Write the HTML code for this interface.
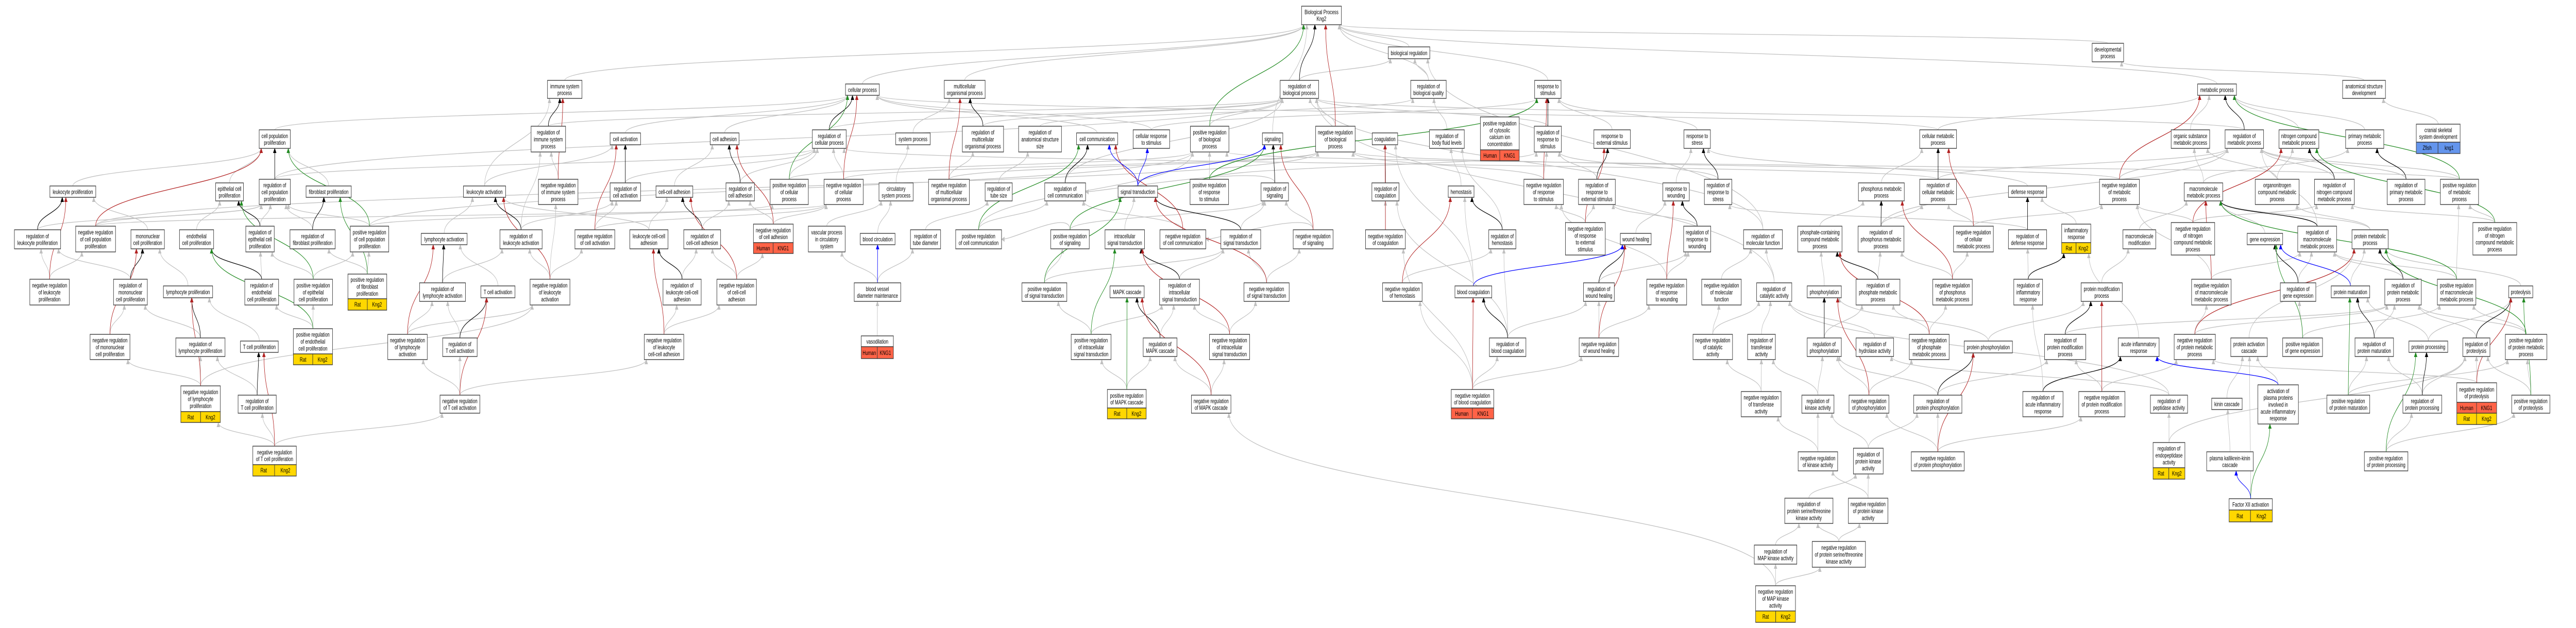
<!DOCTYPE html>
<html><head><meta charset="utf-8">
<style>
html,body{margin:0;padding:0;background:#fff;overflow:hidden;}
svg{display:block;overflow:hidden;width:100vw;height:100vh;}
rect{fill:#fff;stroke:#3a3a3a;stroke-width:1.4;}
rect.g{fill:#FFD700;}
rect.r{fill:#FF6347;}
rect.b{fill:#6495ED;}
text{font-family:"Liberation Sans",Arial,sans-serif;font-size:12.4px;text-anchor:middle;fill:#000;}
path.e{fill:none;stroke-width:1.3;}
</style></head>
<body>
<svg id="s" xmlns="http://www.w3.org/2000/svg" viewBox="0 0 7693 1219" preserveAspectRatio="none">
<defs>
<marker id="mgray" markerWidth="10" markerHeight="10" refX="9" refY="5" orient="auto" markerUnits="userSpaceOnUse"><path d="M0,0 L10,5 L0,10 z" fill="#c0c0c0"/></marker>
<marker id="mblack" markerWidth="10" markerHeight="10" refX="9" refY="5" orient="auto" markerUnits="userSpaceOnUse"><path d="M0,0 L10,5 L0,10 z" fill="#000"/></marker>
<marker id="mred" markerWidth="10" markerHeight="10" refX="9" refY="5" orient="auto" markerUnits="userSpaceOnUse"><path d="M0,0 L10,5 L0,10 z" fill="#b22222"/></marker>
<marker id="mgreen" markerWidth="10" markerHeight="10" refX="9" refY="5" orient="auto" markerUnits="userSpaceOnUse"><path d="M0,0 L10,5 L0,10 z" fill="#228b22"/></marker>
<marker id="mblue" markerWidth="10" markerHeight="10" refX="9" refY="5" orient="auto" markerUnits="userSpaceOnUse"><path d="M0,0 L10,5 L0,10 z" fill="#0000ff"/></marker>
</defs>
<g id="edges"></g>
<g id="nodes">
<g id="cpp"><rect x="774" y="252" width="93" height="36"/><text x="820.5" y="267.9"><tspan x="820.5">cell population</tspan><tspan x="820.5" dy="13.3">proliferation</tspan></text></g>
<g id="lkp"><rect x="149" y="361" width="137" height="22"/><text x="217.5" y="376.5">leukocyte proliferation</text></g>
<g id="epi"><rect x="644" y="355" width="83" height="35"/><text x="685.5" y="370.4"><tspan x="685.5">epithelial cell</tspan><tspan x="685.5" dy="13.3">proliferation</tspan></text></g>
<g id="rcpp"><rect x="774" y="348" width="93" height="49"/><text x="820.5" y="363.7"><tspan x="820.5">regulation of</tspan><tspan x="820.5" dy="13.3">cell population</tspan><tspan x="820.5" dy="13.3">proliferation</tspan></text></g>
<g id="fib"><rect x="914" y="361" width="135" height="22"/><text x="981.5" y="376.5">fibroblast proliferation</text></g>
<g id="rlkp"><rect x="43" y="446" width="138" height="37"/><text x="112" y="462.4"><tspan x="112">regulation of</tspan><tspan x="112" dy="13.3">leukocyte proliferation</tspan></text></g>
<g id="ncpp"><rect x="226" y="439" width="119" height="50"/><text x="285.5" y="455.2"><tspan x="285.5">negative regulation</tspan><tspan x="285.5" dy="13.3">of cell population</tspan><tspan x="285.5" dy="13.3">proliferation</tspan></text></g>
<g id="mono"><rect x="391" y="446" width="100" height="37"/><text x="441" y="462.4"><tspan x="441">mononuclear</tspan><tspan x="441" dy="13.3">cell proliferation</tspan></text></g>
<g id="endo"><rect x="536" y="446" width="102" height="37"/><text x="587" y="462.4"><tspan x="587">endothelial</tspan><tspan x="587" dy="13.3">cell proliferation</tspan></text></g>
<g id="repi"><rect x="734" y="439" width="85" height="50"/><text x="776.5" y="455.2"><tspan x="776.5">regulation of</tspan><tspan x="776.5" dy="13.3">epithelial cell</tspan><tspan x="776.5" dy="13.3">proliferation</tspan></text></g>
<g id="rfib"><rect x="866" y="446" width="135" height="37"/><text x="933.5" y="462.4"><tspan x="933.5">regulation of</tspan><tspan x="933.5" dy="13.3">fibroblast proliferation</tspan></text></g>
<g id="pcpp"><rect x="1046" y="439" width="115" height="50"/><text x="1103.5" y="455.2"><tspan x="1103.5">positive regulation</tspan><tspan x="1103.5" dy="13.3">of cell population</tspan><tspan x="1103.5" dy="13.3">proliferation</tspan></text></g>
<g id="lya"><rect x="1258" y="453" width="137" height="22"/><text x="1326.5" y="468.5">lymphocyte activation</text></g>
<g id="nlkp"><rect x="89" y="542" width="118" height="50"/><text x="148" y="558.2"><tspan x="148">negative regulation</tspan><tspan x="148" dy="13.3">of leukocyte</tspan><tspan x="148" dy="13.3">proliferation</tspan></text></g>
<g id="rmono"><rect x="339" y="542" width="101" height="50"/><text x="389.5" y="558.2"><tspan x="389.5">regulation of</tspan><tspan x="389.5" dy="13.3">mononuclear</tspan><tspan x="389.5" dy="13.3">cell proliferation</tspan></text></g>
<g id="lyp"><rect x="488" y="555" width="147" height="23"/><text x="561.5" y="571">lymphocyte proliferation</text></g>
<g id="rendo"><rect x="731" y="542" width="101" height="50"/><text x="781.5" y="558.2"><tspan x="781.5">regulation of</tspan><tspan x="781.5" dy="13.3">endothelial</tspan><tspan x="781.5" dy="13.3">cell proliferation</tspan></text></g>
<g id="pepi"><rect x="878" y="542" width="115" height="50"/><text x="935.5" y="558.2"><tspan x="935.5">positive regulation</tspan><tspan x="935.5" dy="13.3">of epithelial</tspan><tspan x="935.5" dy="13.3">cell proliferation</tspan></text></g>
<g id="pfib"><rect x="1039" y="532" width="116" height="48"/><rect class="g" x="1039" y="580" width="58" height="22"/><rect class="g" x="1097" y="580" width="58" height="22"/><text x="1097" y="547.2"><tspan x="1097">positive regulation</tspan><tspan x="1097" dy="13.3">of fibroblast</tspan><tspan x="1097" dy="13.3">proliferation</tspan></text><text x="1068" y="595">Rat</text><text x="1126" y="595">Kng2</text></g>
<g id="rlya"><rect x="1253" y="549" width="137" height="36"/><text x="1321.5" y="564.9"><tspan x="1321.5">regulation of</tspan><tspan x="1321.5" dy="13.3">lymphocyte activation</tspan></text></g>
<g id="nmono"><rect x="269" y="649" width="119" height="49"/><text x="328.5" y="664.7"><tspan x="328.5">negative regulation</tspan><tspan x="328.5" dy="13.3">of mononuclear</tspan><tspan x="328.5" dy="13.3">cell proliferation</tspan></text></g>
<g id="rlyp"><rect x="525" y="656" width="147" height="36"/><text x="598.5" y="671.9"><tspan x="598.5">regulation of</tspan><tspan x="598.5" dy="13.3">lymphocyte proliferation</tspan></text></g>
<g id="tp"><rect x="718" y="662" width="113" height="22"/><text x="774.5" y="677.5">T cell proliferation</text></g>
<g id="pendo"><rect x="876" y="638" width="117" height="49"/><rect class="g" x="876" y="687" width="58" height="21"/><rect class="g" x="934" y="687" width="59" height="21"/><text x="934.5" y="653.7"><tspan x="934.5">positive regulation</tspan><tspan x="934.5" dy="13.3">of endothelial</tspan><tspan x="934.5" dy="13.3">cell proliferation</tspan></text><text x="905" y="702">Rat</text><text x="963.5" y="702">Kng2</text></g>
<g id="nlya"><rect x="1158" y="649" width="118" height="49"/><text x="1217" y="664.7"><tspan x="1217">negative regulation</tspan><tspan x="1217" dy="13.3">of lymphocyte</tspan><tspan x="1217" dy="13.3">activation</tspan></text></g>
<g id="nlyp"><rect x="540" y="749" width="118" height="50"/><rect class="g" x="540" y="799" width="59" height="21"/><rect class="g" x="599" y="799" width="59" height="21"/><text x="599" y="765.2"><tspan x="599">negative regulation</tspan><tspan x="599" dy="13.3">of lymphocyte</tspan><tspan x="599" dy="13.3">proliferation</tspan></text><text x="569.5" y="814">Rat</text><text x="628.5" y="814">Kng2</text></g>
<g id="rtp"><rect x="711" y="767" width="114" height="35"/><text x="768" y="782.4"><tspan x="768">regulation of</tspan><tspan x="768" dy="13.3">T cell proliferation</tspan></text></g>
<g id="ntp"><rect x="755" y="866" width="130" height="36"/><rect class="g" x="755" y="902" width="65" height="22"/><rect class="g" x="820" y="902" width="65" height="22"/><text x="820" y="881.9"><tspan x="820">negative regulation</tspan><tspan x="820" dy="13.3">of T cell proliferation</tspan></text><text x="787.5" y="917">Rat</text><text x="852.5" y="917">Kng2</text></g>

<g id="imm"><rect x="1635" y="156" width="103" height="35"/><text x="1686.5" y="171.4"><tspan x="1686.5">immune system</tspan><tspan x="1686.5" dy="13.3">process</tspan></text></g>
<g id="cp"><rect x="2525" y="163" width="101" height="22"/><text x="2575.5" y="178.5">cellular process</text></g>
<g id="rimm"><rect x="1586" y="245" width="103" height="50"/><text x="1637.5" y="261.2"><tspan x="1637.5">regulation of</tspan><tspan x="1637.5" dy="13.3">immune system</tspan><tspan x="1637.5" dy="13.3">process</tspan></text></g>
<g id="ca"><rect x="1822" y="258" width="91" height="23"/><text x="1867.5" y="274">cell activation</text></g>
<g id="cad"><rect x="2121" y="258" width="86" height="23"/><text x="2164" y="274">cell adhesion</text></g>
<g id="rcp"><rect x="2426" y="252" width="101" height="36"/><text x="2476.5" y="267.9"><tspan x="2476.5">regulation of</tspan><tspan x="2476.5" dy="13.3">cellular process</tspan></text></g>
<g id="lka"><rect x="1384" y="361" width="126" height="22"/><text x="1447" y="376.5">leukocyte activation</text></g>
<g id="nimm"><rect x="1608" y="348" width="118" height="49"/><text x="1667" y="363.7"><tspan x="1667">negative regulation</tspan><tspan x="1667" dy="13.3">of immune system</tspan><tspan x="1667" dy="13.3">process</tspan></text></g>
<g id="rca"><rect x="1822" y="355" width="91" height="35"/><text x="1867.5" y="370.4"><tspan x="1867.5">regulation of</tspan><tspan x="1867.5" dy="13.3">cell activation</tspan></text></g>
<g id="ccad"><rect x="1959" y="361" width="110" height="22"/><text x="2014" y="376.5">cell-cell adhesion</text></g>
<g id="rcad"><rect x="2168" y="355" width="85" height="35"/><text x="2210.5" y="370.4"><tspan x="2210.5">regulation of</tspan><tspan x="2210.5" dy="13.3">cell adhesion</tspan></text></g>
<g id="pcp"><rect x="2300" y="348" width="114" height="49"/><text x="2357" y="363.7"><tspan x="2357">positive regulation</tspan><tspan x="2357" dy="13.3">of cellular</tspan><tspan x="2357" dy="13.3">process</tspan></text></g>
<g id="ncp"><rect x="2461" y="348" width="117" height="49"/><text x="2519.5" y="363.7"><tspan x="2519.5">negative regulation</tspan><tspan x="2519.5" dy="13.3">of cellular</tspan><tspan x="2519.5" dy="13.3">process</tspan></text></g>
<g id="rlka"><rect x="1493" y="446" width="126" height="37"/><text x="1556" y="462.4"><tspan x="1556">regulation of</tspan><tspan x="1556" dy="13.3">leukocyte activation</tspan></text></g>
<g id="nca"><rect x="1717" y="446" width="119" height="37"/><text x="1776.5" y="462.4"><tspan x="1776.5">negative regulation</tspan><tspan x="1776.5" dy="13.3">of cell activation</tspan></text></g>
<g id="lkcc"><rect x="1881" y="446" width="114" height="37"/><text x="1938" y="462.4"><tspan x="1938">leukocyte cell-cell</tspan><tspan x="1938" dy="13.3">adhesion</tspan></text></g>
<g id="rccad"><rect x="2042" y="446" width="110" height="37"/><text x="2097" y="462.4"><tspan x="2097">regulation of</tspan><tspan x="2097" dy="13.3">cell-cell adhesion</tspan></text></g>
<g id="ncad"><rect x="2250" y="435" width="119" height="36"/><rect class="r" x="2250" y="471" width="59" height="21"/><rect class="r" x="2309" y="471" width="60" height="21"/><text x="2309.5" y="450.9"><tspan x="2309.5">negative regulation</tspan><tspan x="2309.5" dy="13.3">of cell adhesion</tspan></text><text x="2279.5" y="486">Human</text><text x="2339" y="486">KNG1</text></g>
<g id="vasc"><rect x="2414" y="439" width="110" height="50"/><text x="2469" y="455.2"><tspan x="2469">vascular process</tspan><tspan x="2469" dy="13.3">in circulatory</tspan><tspan x="2469" dy="13.3">system</tspan></text></g>
<g id="tca"><rect x="1436" y="555" width="102" height="23"/><text x="1487" y="571">T cell activation</text></g>
<g id="nlka"><rect x="1583" y="542" width="119" height="50"/><text x="1642.5" y="558.2"><tspan x="1642.5">negative regulation</tspan><tspan x="1642.5" dy="13.3">of leukocyte</tspan><tspan x="1642.5" dy="13.3">activation</tspan></text></g>
<g id="rlkcc"><rect x="1980" y="542" width="114" height="50"/><text x="2037" y="558.2"><tspan x="2037">regulation of</tspan><tspan x="2037" dy="13.3">leukocyte cell-cell</tspan><tspan x="2037" dy="13.3">adhesion</tspan></text></g>
<g id="nccad"><rect x="2141" y="542" width="118" height="50"/><text x="2200" y="558.2"><tspan x="2200">negative regulation</tspan><tspan x="2200" dy="13.3">of cell-cell</tspan><tspan x="2200" dy="13.3">adhesion</tspan></text></g>
<g id="bvdm"><rect x="2551" y="549" width="139" height="36"/><text x="2620.5" y="564.9"><tspan x="2620.5">blood vessel</tspan><tspan x="2620.5" dy="13.3">diameter maintenance</tspan></text></g>
<g id="rtca"><rect x="1322" y="656" width="103" height="36"/><text x="1373.5" y="671.9"><tspan x="1373.5">regulation of</tspan><tspan x="1373.5" dy="13.3">T cell activation</tspan></text></g>
<g id="nlkcc"><rect x="1924" y="649" width="118" height="49"/><text x="1983" y="664.7"><tspan x="1983">negative regulation</tspan><tspan x="1983" dy="13.3">of leukocyte</tspan><tspan x="1983" dy="13.3">cell-cell adhesion</tspan></text></g>
<g id="ntca"><rect x="1314" y="767" width="119" height="35"/><text x="1373.5" y="782.4"><tspan x="1373.5">negative regulation</tspan><tspan x="1373.5" dy="13.3">of T cell activation</tspan></text></g>
<g id="vaso"><rect x="2572" y="652" width="96" height="21"/><rect class="r" x="2572" y="673" width="48" height="23"/><rect class="r" x="2620" y="673" width="48" height="23"/><text x="2620" y="667">vasodilation</text><text x="2596" y="689">Human</text><text x="2644" y="689">KNG1</text></g>

<g id="multi"><rect x="2820" y="156" width="122" height="35"/><text x="2881" y="171.4"><tspan x="2881">multicellular</tspan><tspan x="2881" dy="13.3">organismal process</tspan></text></g>
<g id="rbp"><rect x="3823" y="156" width="115" height="35"/><text x="3880.5" y="171.4"><tspan x="3880.5">regulation of</tspan><tspan x="3880.5" dy="13.3">biological process</tspan></text></g>
<g id="sys"><rect x="2675" y="258" width="103" height="23"/><text x="2726.5" y="274">system process</text></g>
<g id="rmulti"><rect x="2874" y="245" width="123" height="50"/><text x="2935.5" y="261.2"><tspan x="2935.5">regulation of</tspan><tspan x="2935.5" dy="13.3">multicellular</tspan><tspan x="2935.5" dy="13.3">organismal process</tspan></text></g>
<g id="ranat"><rect x="3042" y="245" width="128" height="50"/><text x="3106" y="261.2"><tspan x="3106">regulation of</tspan><tspan x="3106" dy="13.3">anatomical structure</tspan><tspan x="3106" dy="13.3">size</tspan></text></g>
<g id="cc"><rect x="3215" y="258" width="123" height="23"/><text x="3276.5" y="274">cell communication</text></g>
<g id="crs"><rect x="3384" y="252" width="109" height="36"/><text x="3438.5" y="267.9"><tspan x="3438.5">cellular response</tspan><tspan x="3438.5" dy="13.3">to stimulus</tspan></text></g>
<g id="pbp"><rect x="3555" y="245" width="115" height="50"/><text x="3612.5" y="261.2"><tspan x="3612.5">positive regulation</tspan><tspan x="3612.5" dy="13.3">of biological</tspan><tspan x="3612.5" dy="13.3">process</tspan></text></g>
<g id="sig"><rect x="3770" y="258" width="61" height="23"/><text x="3800.5" y="274">signaling</text></g>
<g id="circ"><rect x="2625" y="355" width="102" height="35"/><text x="2676" y="370.4"><tspan x="2676">circulatory</tspan><tspan x="2676" dy="13.3">system process</tspan></text></g>
<g id="nmulti"><rect x="2773" y="348" width="122" height="49"/><text x="2834" y="363.7"><tspan x="2834">negative regulation</tspan><tspan x="2834" dy="13.3">of multicellular</tspan><tspan x="2834" dy="13.3">organismal process</tspan></text></g>
<g id="rtube"><rect x="2942" y="355" width="81" height="35"/><text x="2982.5" y="370.4"><tspan x="2982.5">regulation of</tspan><tspan x="2982.5" dy="13.3">tube size</tspan></text></g>
<g id="rcc"><rect x="3120" y="355" width="122" height="35"/><text x="3181" y="370.4"><tspan x="3181">regulation of</tspan><tspan x="3181" dy="13.3">cell communication</tspan></text></g>
<g id="st"><rect x="3339" y="361" width="118" height="22"/><text x="3398" y="376.5">signal transduction</text></g>
<g id="prs"><rect x="3554" y="348" width="115" height="49"/><text x="3611.5" y="363.7"><tspan x="3611.5">positive regulation</tspan><tspan x="3611.5" dy="13.3">of response</tspan><tspan x="3611.5" dy="13.3">to stimulus</tspan></text></g>
<g id="rsig"><rect x="3766" y="355" width="82" height="35"/><text x="3807" y="370.4"><tspan x="3807">regulation of</tspan><tspan x="3807" dy="13.3">signaling</tspan></text></g>
<g id="bcirc"><rect x="2569" y="453" width="104" height="22"/><text x="2621" y="468.5">blood circulation</text></g>
<g id="rtd"><rect x="2719" y="446" width="90" height="37"/><text x="2764" y="462.4"><tspan x="2764">regulation of</tspan><tspan x="2764" dy="13.3">tube diameter</tspan></text></g>
<g id="pcc"><rect x="2854" y="446" width="137" height="37"/><text x="2922.5" y="462.4"><tspan x="2922.5">positive regulation</tspan><tspan x="2922.5" dy="13.3">of cell communication</tspan></text></g>
<g id="psig"><rect x="3138" y="446" width="115" height="37"/><text x="3195.5" y="462.4"><tspan x="3195.5">positive regulation</tspan><tspan x="3195.5" dy="13.3">of signaling</tspan></text></g>
<g id="ist"><rect x="3300" y="446" width="118" height="37"/><text x="3359" y="462.4"><tspan x="3359">intracellular</tspan><tspan x="3359" dy="13.3">signal transduction</tspan></text></g>
<g id="ncc"><rect x="3464" y="446" width="137" height="37"/><text x="3532.5" y="462.4"><tspan x="3532.5">negative regulation</tspan><tspan x="3532.5" dy="13.3">of cell communication</tspan></text></g>
<g id="rst"><rect x="3646" y="446" width="119" height="37"/><text x="3705.5" y="462.4"><tspan x="3705.5">regulation of</tspan><tspan x="3705.5" dy="13.3">signal transduction</tspan></text></g>
<g id="pst"><rect x="3052" y="549" width="134" height="36"/><text x="3119" y="564.9"><tspan x="3119">positive regulation</tspan><tspan x="3119" dy="13.3">of signal transduction</tspan></text></g>
<g id="mapk"><rect x="3315" y="555" width="102" height="23"/><text x="3366" y="571">MAPK cascade</text></g>
<g id="rist"><rect x="3463" y="542" width="119" height="50"/><text x="3522.5" y="558.2"><tspan x="3522.5">regulation of</tspan><tspan x="3522.5" dy="13.3">intracellular</tspan><tspan x="3522.5" dy="13.3">signal transduction</tspan></text></g>
<g id="nst"><rect x="3715" y="549" width="135" height="36"/><text x="3782.5" y="564.9"><tspan x="3782.5">negative regulation</tspan><tspan x="3782.5" dy="13.3">of signal transduction</tspan></text></g>
<g id="pist"><rect x="3199" y="649" width="119" height="49"/><text x="3258.5" y="664.7"><tspan x="3258.5">positive regulation</tspan><tspan x="3258.5" dy="13.3">of intracellular</tspan><tspan x="3258.5" dy="13.3">signal transduction</tspan></text></g>
<g id="rmapk"><rect x="3414" y="656" width="101" height="36"/><text x="3464.5" y="671.9"><tspan x="3464.5">regulation of</tspan><tspan x="3464.5" dy="13.3">MAPK cascade</tspan></text></g>
<g id="nist"><rect x="3612" y="649" width="120" height="49"/><text x="3672" y="664.7"><tspan x="3672">negative regulation</tspan><tspan x="3672" dy="13.3">of intracellular</tspan><tspan x="3672" dy="13.3">signal transduction</tspan></text></g>
<g id="pmapk"><rect x="3307" y="756" width="116" height="36"/><rect class="g" x="3307" y="792" width="58" height="21"/><rect class="g" x="3365" y="792" width="58" height="21"/><text x="3365" y="771.9"><tspan x="3365">positive regulation</tspan><tspan x="3365" dy="13.3">of MAPK cascade</tspan></text><text x="3336" y="807">Rat</text><text x="3394" y="807">Kng2</text></g>
<g id="nmapk"><rect x="3558" y="767" width="118" height="35"/><text x="3617" y="782.4"><tspan x="3617">negative regulation</tspan><tspan x="3617" dy="13.3">of MAPK cascade</tspan></text></g>

<g id="bp"><rect x="3887" y="12" width="119" height="36"/><text x="3946.5" y="27.4"><tspan x="3946.5">Biological Process</tspan><tspan x="3946.5" dy="13.3">Kng2</tspan></text></g>
<g id="breg"><rect x="4146" y="91" width="124" height="23"/><text x="4208" y="107">biological regulation</text></g>
<g id="rbq"><rect x="4213" y="156" width="106" height="35"/><text x="4266" y="171.4"><tspan x="4266">regulation of</tspan><tspan x="4266" dy="13.3">biological quality</tspan></text></g>
<g id="rs"><rect x="4583" y="156" width="79" height="35"/><text x="4622.5" y="171.4"><tspan x="4622.5">response to</tspan><tspan x="4622.5" dy="13.3">stimulus</tspan></text></g>
<g id="nbp"><rect x="3929" y="245" width="118" height="50"/><text x="3988" y="261.2"><tspan x="3988">negative regulation</tspan><tspan x="3988" dy="13.3">of biological</tspan><tspan x="3988" dy="13.3">process</tspan></text></g>
<g id="coag"><rect x="4098" y="258" width="76" height="23"/><text x="4136" y="274">coagulation</text></g>
<g id="rbfl"><rect x="4269" y="252" width="104" height="36"/><text x="4321" y="267.9"><tspan x="4321">regulation of</tspan><tspan x="4321" dy="13.3">body fluid levels</tspan></text></g>
<g id="pcyt"><rect x="4421" y="227" width="116" height="64"/><rect class="r" x="4421" y="291" width="58" height="21"/><rect class="r" x="4479" y="291" width="58" height="21"/><text x="4479" y="243.5"><tspan x="4479">positive regulation</tspan><tspan x="4479" dy="13.3">of cytosolic</tspan><tspan x="4479" dy="13.3">calcium ion</tspan><tspan x="4479" dy="13.3">concentration</tspan></text><text x="4450" y="306">Human</text><text x="4508" y="306">KNG1</text></g>
<g id="rrs"><rect x="4582" y="245" width="81" height="50"/><text x="4622.5" y="261.2"><tspan x="4622.5">regulation of</tspan><tspan x="4622.5" dy="13.3">response to</tspan><tspan x="4622.5" dy="13.3">stimulus</tspan></text></g>
<g id="res"><rect x="4760" y="252" width="109" height="36"/><text x="4814.5" y="267.9"><tspan x="4814.5">response to</tspan><tspan x="4814.5" dy="13.3">external stimulus</tspan></text></g>
<g id="rstr"><rect x="5029" y="252" width="79" height="36"/><text x="5068.5" y="267.9"><tspan x="5068.5">response to</tspan><tspan x="5068.5" dy="13.3">stress</tspan></text></g>
<g id="rcoag"><rect x="4097" y="355" width="81" height="35"/><text x="4137.5" y="370.4"><tspan x="4137.5">regulation of</tspan><tspan x="4137.5" dy="13.3">coagulation</tspan></text></g>
<g id="hemo"><rect x="4325" y="361" width="77" height="22"/><text x="4363.5" y="376.5">hemostasis</text></g>
<g id="nrs"><rect x="4551" y="348" width="118" height="49"/><text x="4610" y="363.7"><tspan x="4610">negative regulation</tspan><tspan x="4610" dy="13.3">of response</tspan><tspan x="4610" dy="13.3">to stimulus</tspan></text></g>
<g id="rres"><rect x="4714" y="348" width="110" height="49"/><text x="4769" y="363.7"><tspan x="4769">regulation of</tspan><tspan x="4769" dy="13.3">response to</tspan><tspan x="4769" dy="13.3">external stimulus</tspan></text></g>
<g id="rw"><rect x="4966" y="355" width="79" height="35"/><text x="5005.5" y="370.4"><tspan x="5005.5">response to</tspan><tspan x="5005.5" dy="13.3">wounding</tspan></text></g>
<g id="rrstr"><rect x="5090" y="348" width="82" height="49"/><text x="5131" y="363.7"><tspan x="5131">regulation of</tspan><tspan x="5131" dy="13.3">response to</tspan><tspan x="5131" dy="13.3">stress</tspan></text></g>
<g id="nsig"><rect x="3862" y="446" width="119" height="37"/><text x="3921.5" y="462.4"><tspan x="3921.5">negative regulation</tspan><tspan x="3921.5" dy="13.3">of signaling</tspan></text></g>
<g id="ncoag"><rect x="4078" y="446" width="119" height="37"/><text x="4137.5" y="462.4"><tspan x="4137.5">negative regulation</tspan><tspan x="4137.5" dy="13.3">of coagulation</tspan></text></g>
<g id="rhemo"><rect x="4446" y="446" width="81" height="37"/><text x="4486.5" y="462.4"><tspan x="4486.5">regulation of</tspan><tspan x="4486.5" dy="13.3">hemostasis</tspan></text></g>
<g id="nres"><rect x="4675" y="432" width="119" height="63"/><text x="4734.5" y="448"><tspan x="4734.5">negative regulation</tspan><tspan x="4734.5" dy="13.3">of response</tspan><tspan x="4734.5" dy="13.3">to external</tspan><tspan x="4734.5" dy="13.3">stimulus</tspan></text></g>
<g id="wh"><rect x="4839" y="453" width="92" height="22"/><text x="4885" y="468.5">wound healing</text></g>
<g id="rrw"><rect x="5028" y="439" width="81" height="50"/><text x="5068.5" y="455.2"><tspan x="5068.5">regulation of</tspan><tspan x="5068.5" dy="13.3">response to</tspan><tspan x="5068.5" dy="13.3">wounding</tspan></text></g>
<g id="nhemo"><rect x="4129" y="549" width="118" height="36"/><text x="4188" y="564.9"><tspan x="4188">negative regulation</tspan><tspan x="4188" dy="13.3">of hemostasis</tspan></text></g>
<g id="bc"><rect x="4345" y="555" width="110" height="23"/><text x="4400" y="571">blood coagulation</text></g>
<g id="rwh"><rect x="4729" y="549" width="92" height="36"/><text x="4775" y="564.9"><tspan x="4775">regulation of</tspan><tspan x="4775" dy="13.3">wound healing</tspan></text></g>
<g id="nrw"><rect x="4918" y="542" width="119" height="50"/><text x="4977.5" y="558.2"><tspan x="4977.5">negative regulation</tspan><tspan x="4977.5" dy="13.3">of response</tspan><tspan x="4977.5" dy="13.3">to wounding</tspan></text></g>
<g id="nmf"><rect x="5082" y="542" width="118" height="50"/><text x="5141" y="558.2"><tspan x="5141">negative regulation</tspan><tspan x="5141" dy="13.3">of molecular</tspan><tspan x="5141" dy="13.3">function</tspan></text></g>
<g id="rbc"><rect x="4448" y="656" width="109" height="36"/><text x="4502.5" y="671.9"><tspan x="4502.5">regulation of</tspan><tspan x="4502.5" dy="13.3">blood coagulation</tspan></text></g>
<g id="nwh"><rect x="4716" y="656" width="118" height="36"/><text x="4775" y="671.9"><tspan x="4775">negative regulation</tspan><tspan x="4775" dy="13.3">of wound healing</tspan></text></g>
<g id="ncat"><rect x="5056" y="649" width="118" height="49"/><text x="5115" y="664.7"><tspan x="5115">negative regulation</tspan><tspan x="5115" dy="13.3">of catalytic</tspan><tspan x="5115" dy="13.3">activity</tspan></text></g>
<g id="nbc"><rect x="4334" y="756" width="127" height="36"/><rect class="r" x="4334" y="792" width="63" height="21"/><rect class="r" x="4397" y="792" width="64" height="21"/><text x="4397.5" y="771.9"><tspan x="4397.5">negative regulation</tspan><tspan x="4397.5" dy="13.3">of blood coagulation</tspan></text><text x="4365.5" y="807">Human</text><text x="4429" y="807">KNG1</text></g>

<g id="dev"><rect x="6248" y="84" width="94" height="36"/><text x="6295" y="99.9"><tspan x="6295">developmental</tspan><tspan x="6295" dy="13.3">process</tspan></text></g>
<g id="cmp"><rect x="5733" y="252" width="110" height="36"/><text x="5788" y="267.9"><tspan x="5788">cellular metabolic</tspan><tspan x="5788" dy="13.3">process</tspan></text></g>
<g id="phm"><rect x="5550" y="355" width="137" height="35"/><text x="5618.5" y="370.4"><tspan x="5618.5">phosphorus metabolic</tspan><tspan x="5618.5" dy="13.3">process</tspan></text></g>
<g id="rcmp"><rect x="5733" y="348" width="110" height="49"/><text x="5788" y="363.7"><tspan x="5788">regulation of</tspan><tspan x="5788" dy="13.3">cellular metabolic</tspan><tspan x="5788" dy="13.3">process</tspan></text></g>
<g id="def"><rect x="5998" y="361" width="114" height="22"/><text x="6055" y="376.5">defense response</text></g>
<g id="nmp"><rect x="6270" y="348" width="119" height="49"/><text x="6329.5" y="363.7"><tspan x="6329.5">negative regulation</tspan><tspan x="6329.5" dy="13.3">of metabolic</tspan><tspan x="6329.5" dy="13.3">process</tspan></text></g>
<g id="rmf"><rect x="5207" y="446" width="116" height="37"/><text x="5265" y="462.4"><tspan x="5265">regulation of</tspan><tspan x="5265" dy="13.3">molecular function</tspan></text></g>
<g id="pcc2"><rect x="5369" y="439" width="132" height="50"/><text x="5435" y="455.2"><tspan x="5435">phosphate-containing</tspan><tspan x="5435" dy="13.3">compound metabolic</tspan><tspan x="5435" dy="13.3">process</tspan></text></g>
<g id="rphm"><rect x="5549" y="439" width="137" height="50"/><text x="5617.5" y="455.2"><tspan x="5617.5">regulation of</tspan><tspan x="5617.5" dy="13.3">phosphorus metabolic</tspan><tspan x="5617.5" dy="13.3">process</tspan></text></g>
<g id="ncmp"><rect x="5834" y="439" width="119" height="50"/><text x="5893.5" y="455.2"><tspan x="5893.5">negative regulation</tspan><tspan x="5893.5" dy="13.3">of cellular</tspan><tspan x="5893.5" dy="13.3">metabolic process</tspan></text></g>
<g id="rdef"><rect x="5998" y="446" width="114" height="37"/><text x="6055" y="462.4"><tspan x="6055">regulation of</tspan><tspan x="6055" dy="13.3">defense response</tspan></text></g>
<g id="infl"><rect x="6157" y="435" width="87" height="36"/><rect class="g" x="6157" y="471" width="43" height="21"/><rect class="g" x="6200" y="471" width="44" height="21"/><text x="6200.5" y="450.9"><tspan x="6200.5">inflammatory</tspan><tspan x="6200.5" dy="13.3">response</tspan></text><text x="6178.5" y="486">Rat</text><text x="6222" y="486">Kng2</text></g>
<g id="mmod"><rect x="6340" y="446" width="98" height="37"/><text x="6389" y="462.4"><tspan x="6389">macromolecule</tspan><tspan x="6389" dy="13.3">modification</tspan></text></g>
<g id="rcat"><rect x="5246" y="549" width="105" height="36"/><text x="5298.5" y="564.9"><tspan x="5298.5">regulation of</tspan><tspan x="5298.5" dy="13.3">catalytic activity</tspan></text></g>
<g id="phos"><rect x="5397" y="555" width="102" height="23"/><text x="5448" y="571">phosphorylation</text></g>
<g id="rpm"><rect x="5543" y="542" width="131" height="50"/><text x="5608.5" y="558.2"><tspan x="5608.5">regulation of</tspan><tspan x="5608.5" dy="13.3">phosphate metabolic</tspan><tspan x="5608.5" dy="13.3">process</tspan></text></g>
<g id="nphm"><rect x="5772" y="542" width="118" height="50"/><text x="5831" y="558.2"><tspan x="5831">negative regulation</tspan><tspan x="5831" dy="13.3">of phosphorus</tspan><tspan x="5831" dy="13.3">metabolic process</tspan></text></g>
<g id="rinf"><rect x="6014" y="542" width="86" height="50"/><text x="6057" y="558.2"><tspan x="6057">regulation of</tspan><tspan x="6057" dy="13.3">inflammatory</tspan><tspan x="6057" dy="13.3">response</tspan></text></g>
<g id="pmod"><rect x="6215" y="549" width="123" height="36"/><text x="6276.5" y="564.9"><tspan x="6276.5">protein modification</tspan><tspan x="6276.5" dy="13.3">process</tspan></text></g>
<g id="rtr"><rect x="5219" y="649" width="83" height="49"/><text x="5260.5" y="664.7"><tspan x="5260.5">regulation of</tspan><tspan x="5260.5" dy="13.3">transferase</tspan><tspan x="5260.5" dy="13.3">activity</tspan></text></g>
<g id="rphos"><rect x="5397" y="656" width="102" height="36"/><text x="5448" y="671.9"><tspan x="5448">regulation of</tspan><tspan x="5448" dy="13.3">phosphorylation</tspan></text></g>
<g id="rhyd"><rect x="5543" y="656" width="112" height="36"/><text x="5599" y="671.9"><tspan x="5599">regulation of</tspan><tspan x="5599" dy="13.3">hydrolase activity</tspan></text></g>
<g id="npm"><rect x="5702" y="649" width="119" height="49"/><text x="5761.5" y="664.7"><tspan x="5761.5">negative regulation</tspan><tspan x="5761.5" dy="13.3">of phosphate</tspan><tspan x="5761.5" dy="13.3">metabolic process</tspan></text></g>
<g id="pphos"><rect x="5866" y="662" width="144" height="23"/><text x="5938" y="678">protein phosphorylation</text></g>
<g id="rpmod"><rect x="6106" y="649" width="123" height="49"/><text x="6167.5" y="664.7"><tspan x="6167.5">regulation of</tspan><tspan x="6167.5" dy="13.3">protein modification</tspan><tspan x="6167.5" dy="13.3">process</tspan></text></g>
<g id="ainf"><rect x="6326" y="656" width="122" height="36"/><text x="6387" y="671.9"><tspan x="6387">acute inflammatory</tspan><tspan x="6387" dy="13.3">response</tspan></text></g>
<g id="ntr"><rect x="5200" y="760" width="119" height="49"/><text x="5259.5" y="775.7"><tspan x="5259.5">negative regulation</tspan><tspan x="5259.5" dy="13.3">of transferase</tspan><tspan x="5259.5" dy="13.3">activity</tspan></text></g>
<g id="rka"><rect x="5381" y="767" width="96" height="35"/><text x="5429" y="782.4"><tspan x="5429">regulation of</tspan><tspan x="5429" dy="13.3">kinase activity</tspan></text></g>
<g id="nphos"><rect x="5522" y="767" width="119" height="35"/><text x="5581.5" y="782.4"><tspan x="5581.5">negative regulation</tspan><tspan x="5581.5" dy="13.3">of phosphorylation</tspan></text></g>
<g id="rpp"><rect x="5715" y="767" width="144" height="35"/><text x="5787" y="782.4"><tspan x="5787">regulation of</tspan><tspan x="5787" dy="13.3">protein phosphorylation</tspan></text></g>
<g id="rainf"><rect x="6041" y="760" width="120" height="49"/><text x="6101" y="775.7"><tspan x="6101">regulation of</tspan><tspan x="6101" dy="13.3">acute inflammatory</tspan><tspan x="6101" dy="13.3">response</tspan></text></g>
<g id="npmod"><rect x="6208" y="760" width="138" height="49"/><text x="6277" y="775.7"><tspan x="6277">negative regulation</tspan><tspan x="6277" dy="13.3">of protein modification</tspan><tspan x="6277" dy="13.3">process</tspan></text></g>
<g id="nka"><rect x="5370" y="877" width="118" height="37"/><text x="5429" y="893.4"><tspan x="5429">negative regulation</tspan><tspan x="5429" dy="13.3">of kinase activity</tspan></text></g>
<g id="rpka"><rect x="5535" y="870" width="89" height="50"/><text x="5579.5" y="886.2"><tspan x="5579.5">regulation of</tspan><tspan x="5579.5" dy="13.3">protein kinase</tspan><tspan x="5579.5" dy="13.3">activity</tspan></text></g>
<g id="npp"><rect x="5708" y="877" width="158" height="37"/><text x="5787" y="893.4"><tspan x="5787">negative regulation</tspan><tspan x="5787" dy="13.3">of protein phosphorylation</tspan></text></g>
<g id="rpst"><rect x="5330" y="967" width="144" height="49"/><text x="5402" y="982.7"><tspan x="5402">regulation of</tspan><tspan x="5402" dy="13.3">protein serine/threonine</tspan><tspan x="5402" dy="13.3">kinase activity</tspan></text></g>
<g id="npka"><rect x="5520" y="967" width="118" height="49"/><text x="5579" y="982.7"><tspan x="5579">negative regulation</tspan><tspan x="5579" dy="13.3">of protein kinase</tspan><tspan x="5579" dy="13.3">activity</tspan></text></g>
<g id="rmapka"><rect x="5239" y="1058" width="127" height="37"/><text x="5302.5" y="1074.4"><tspan x="5302.5">regulation of</tspan><tspan x="5302.5" dy="13.3">MAP kinase activity</tspan></text></g>
<g id="npst"><rect x="5412" y="1051" width="159" height="50"/><text x="5491.5" y="1067.2"><tspan x="5491.5">negative regulation</tspan><tspan x="5491.5" dy="13.3">of protein serine/threonine</tspan><tspan x="5491.5" dy="13.3">kinase activity</tspan></text></g>
<g id="nmapka"><rect x="5243" y="1137" width="119" height="49"/><rect class="g" x="5243" y="1186" width="60" height="22"/><rect class="g" x="5303" y="1186" width="59" height="22"/><text x="5302.5" y="1152.7"><tspan x="5302.5">negative regulation</tspan><tspan x="5302.5" dy="13.3">of MAP kinase</tspan><tspan x="5302.5" dy="13.3">activity</tspan></text><text x="5273" y="1201">Rat</text><text x="5332.5" y="1201">Kng2</text></g>

<g id="met"><rect x="6563" y="163" width="116" height="22"/><text x="6621" y="178.5">metabolic process</text></g>
<g id="anat"><rect x="6996" y="156" width="128" height="35"/><text x="7060" y="171.4"><tspan x="7060">anatomical structure</tspan><tspan x="7060" dy="13.3">development</tspan></text></g>
<g id="cran"><rect x="7216" y="241" width="131" height="35"/><rect class="b" x="7216" y="276" width="65" height="22"/><rect class="b" x="7281" y="276" width="66" height="22"/><text x="7281.5" y="256.4"><tspan x="7281.5">cranial skeletal</tspan><tspan x="7281.5" dy="13.3">system development</tspan></text><text x="7248.5" y="291">Zfish</text><text x="7314" y="291">kng1</text></g>
<g id="osm"><rect x="6484" y="252" width="115" height="36"/><text x="6541.5" y="267.9"><tspan x="6541.5">organic substance</tspan><tspan x="6541.5" dy="13.3">metabolic process</tspan></text></g>
<g id="rmet"><rect x="6645" y="252" width="115" height="36"/><text x="6702.5" y="267.9"><tspan x="6702.5">regulation of</tspan><tspan x="6702.5" dy="13.3">metabolic process</tspan></text></g>
<g id="ncm"><rect x="6806" y="252" width="119" height="36"/><text x="6865.5" y="267.9"><tspan x="6865.5">nitrogen compound</tspan><tspan x="6865.5" dy="13.3">metabolic process</tspan></text></g>
<g id="pmp"><rect x="7005" y="252" width="114" height="36"/><text x="7062" y="267.9"><tspan x="7062">primary metabolic</tspan><tspan x="7062" dy="13.3">process</tspan></text></g>
<g id="mmp"><rect x="6523" y="355" width="115" height="35"/><text x="6580.5" y="370.4"><tspan x="6580.5">macromolecule</tspan><tspan x="6580.5" dy="13.3">metabolic process</tspan></text></g>
<g id="oncm"><rect x="6735" y="348" width="131" height="49"/><text x="6800.5" y="363.7"><tspan x="6800.5">organonitrogen</tspan><tspan x="6800.5" dy="13.3">compound metabolic</tspan><tspan x="6800.5" dy="13.3">process</tspan></text></g>
<g id="rncm"><rect x="6912" y="348" width="119" height="49"/><text x="6971.5" y="363.7"><tspan x="6971.5">regulation of</tspan><tspan x="6971.5" dy="13.3">nitrogen compound</tspan><tspan x="6971.5" dy="13.3">metabolic process</tspan></text></g>
<g id="rpmp"><rect x="7129" y="348" width="113" height="49"/><text x="7185.5" y="363.7"><tspan x="7185.5">regulation of</tspan><tspan x="7185.5" dy="13.3">primary metabolic</tspan><tspan x="7185.5" dy="13.3">process</tspan></text></g>
<g id="pmet"><rect x="7288" y="348" width="114" height="49"/><text x="7345" y="363.7"><tspan x="7345">positive regulation</tspan><tspan x="7345" dy="13.3">of metabolic</tspan><tspan x="7345" dy="13.3">process</tspan></text></g>
<g id="nncm"><rect x="6484" y="432" width="130" height="63"/><text x="6549" y="448"><tspan x="6549">negative regulation</tspan><tspan x="6549" dy="13.3">of nitrogen</tspan><tspan x="6549" dy="13.3">compound metabolic</tspan><tspan x="6549" dy="13.3">process</tspan></text></g>
<g id="ge"><rect x="6711" y="453" width="106" height="22"/><text x="6764" y="468.5">gene expression</text></g>
<g id="rmmp"><rect x="6862" y="439" width="116" height="50"/><text x="6920" y="455.2"><tspan x="6920">regulation of</tspan><tspan x="6920" dy="13.3">macromolecule</tspan><tspan x="6920" dy="13.3">metabolic process</tspan></text></g>
<g id="prmp"><rect x="7024" y="446" width="108" height="37"/><text x="7078" y="462.4"><tspan x="7078">protein metabolic</tspan><tspan x="7078" dy="13.3">process</tspan></text></g>
<g id="pncm"><rect x="7385" y="432" width="131" height="63"/><text x="7450.5" y="448"><tspan x="7450.5">positive regulation</tspan><tspan x="7450.5" dy="13.3">of nitrogen</tspan><tspan x="7450.5" dy="13.3">compound metabolic</tspan><tspan x="7450.5" dy="13.3">process</tspan></text></g>
<g id="nmmp"><rect x="6545" y="542" width="118" height="50"/><text x="6604" y="558.2"><tspan x="6604">negative regulation</tspan><tspan x="6604" dy="13.3">of macromolecule</tspan><tspan x="6604" dy="13.3">metabolic process</tspan></text></g>
<g id="rge"><rect x="6810" y="549" width="106" height="36"/><text x="6863" y="564.9"><tspan x="6863">regulation of</tspan><tspan x="6863" dy="13.3">gene expression</tspan></text></g>
<g id="pmat"><rect x="6962" y="555" width="115" height="23"/><text x="7019.5" y="571">protein maturation</text></g>
<g id="rprmp"><rect x="7122" y="542" width="109" height="50"/><text x="7176.5" y="558.2"><tspan x="7176.5">regulation of</tspan><tspan x="7176.5" dy="13.3">protein metabolic</tspan><tspan x="7176.5" dy="13.3">process</tspan></text></g>
<g id="pmmp"><rect x="7279" y="542" width="115" height="50"/><text x="7336.5" y="558.2"><tspan x="7336.5">positive regulation</tspan><tspan x="7336.5" dy="13.3">of macromolecule</tspan><tspan x="7336.5" dy="13.3">metabolic process</tspan></text></g>
<g id="prot"><rect x="7492" y="555" width="72" height="23"/><text x="7528" y="571">proteolysis</text></g>
<g id="nprmp"><rect x="6493" y="649" width="123" height="49"/><text x="6554.5" y="664.7"><tspan x="6554.5">negative regulation</tspan><tspan x="6554.5" dy="13.3">of protein metabolic</tspan><tspan x="6554.5" dy="13.3">process</tspan></text></g>
<g id="pac"><rect x="6662" y="656" width="109" height="36"/><text x="6716.5" y="671.9"><tspan x="6716.5">protein activation</tspan><tspan x="6716.5" dy="13.3">cascade</tspan></text></g>
<g id="pge"><rect x="6817" y="656" width="119" height="36"/><text x="6876.5" y="671.9"><tspan x="6876.5">positive regulation</tspan><tspan x="6876.5" dy="13.3">of gene expression</tspan></text></g>
<g id="rpmat"><rect x="7033" y="656" width="115" height="36"/><text x="7090.5" y="671.9"><tspan x="7090.5">regulation of</tspan><tspan x="7090.5" dy="13.3">protein maturation</tspan></text></g>
<g id="pproc"><rect x="7194" y="662" width="116" height="22"/><text x="7252" y="677.5">protein processing</text></g>
<g id="rprot"><rect x="7355" y="656" width="81" height="36"/><text x="7395.5" y="671.9"><tspan x="7395.5">regulation of</tspan><tspan x="7395.5" dy="13.3">proteolysis</tspan></text></g>
<g id="pprmp"><rect x="7482" y="649" width="124" height="49"/><text x="7544" y="664.7"><tspan x="7544">positive regulation</tspan><tspan x="7544" dy="13.3">of protein metabolic</tspan><tspan x="7544" dy="13.3">process</tspan></text></g>
<g id="rpep"><rect x="6422" y="767" width="111" height="35"/><text x="6477.5" y="782.4"><tspan x="6477.5">regulation of</tspan><tspan x="6477.5" dy="13.3">peptidase activity</tspan></text></g>
<g id="kin"><rect x="6605" y="773" width="91" height="22"/><text x="6650.5" y="788.5">kinin cascade</text></g>
<g id="actp"><rect x="6743" y="747" width="121" height="76"/><text x="6803.5" y="762.9"><tspan x="6803.5">activation of</tspan><tspan x="6803.5" dy="13.3">plasma proteins</tspan><tspan x="6803.5" dy="13.3">involved in</tspan><tspan x="6803.5" dy="13.3">acute inflammatory</tspan><tspan x="6803.5" dy="13.3">response</tspan></text></g>
<g id="ppmat"><rect x="6949" y="767" width="128" height="35"/><text x="7013" y="782.4"><tspan x="7013">positive regulation</tspan><tspan x="7013" dy="13.3">of protein maturation</tspan></text></g>
<g id="rpproc"><rect x="7176" y="767" width="116" height="35"/><text x="7234" y="782.4"><tspan x="7234">regulation of</tspan><tspan x="7234" dy="13.3">protein processing</tspan></text></g>
<g id="nprot"><rect x="7337" y="743" width="119" height="38"/><rect class="r" x="7337" y="781" width="59" height="21"/><rect class="r" x="7396" y="781" width="60" height="21"/><rect class="g" x="7337" y="802" width="59" height="22"/><rect class="g" x="7396" y="802" width="60" height="22"/><text x="7396.5" y="759.9"><tspan x="7396.5">negative regulation</tspan><tspan x="7396.5" dy="13.3">of proteolysis</tspan></text><text x="7366.5" y="796">Human</text><text x="7426" y="796">KNG1</text><text x="7366.5" y="817">Rat</text><text x="7426" y="817">Kng2</text></g>
<g id="pprot"><rect x="7501" y="767" width="114" height="35"/><text x="7558" y="782.4"><tspan x="7558">positive regulation</tspan><tspan x="7558" dy="13.3">of proteolysis</tspan></text></g>
<g id="rendp"><rect x="6430" y="859" width="95" height="49"/><rect class="g" x="6430" y="908" width="47" height="22"/><rect class="g" x="6477" y="908" width="48" height="22"/><text x="6477.5" y="874.7"><tspan x="6477.5">regulation of</tspan><tspan x="6477.5" dy="13.3">endopeptidase</tspan><tspan x="6477.5" dy="13.3">activity</tspan></text><text x="6453.5" y="923">Rat</text><text x="6501" y="923">Kng2</text></g>
<g id="pkk"><rect x="6590" y="877" width="139" height="37"/><text x="6659.5" y="893.4"><tspan x="6659.5">plasma kallikrein-kinin</tspan><tspan x="6659.5" dy="13.3">cascade</tspan></text></g>
<g id="ppproc"><rect x="7061" y="877" width="130" height="37"/><text x="7126" y="893.4"><tspan x="7126">positive regulation</tspan><tspan x="7126" dy="13.3">of protein processing</tspan></text></g>
<g id="fxii"><rect x="6657" y="968" width="129" height="22"/><rect class="g" x="6657" y="990" width="64" height="23"/><rect class="g" x="6721" y="990" width="65" height="23"/><text x="6721.5" y="983.5">Factor XII activation</text><text x="6689" y="1006">Rat</text><text x="6753.5" y="1006">Kng2</text></g>
</g>
</svg>
<script>
(function(){
var E={
gray:"epi cpp,fib cpp,lkp cpp,mono lkp,endo epi,lyp mono,tp lyp,rlkp rcpp,ncpp rcpp,repi rcpp,rfib rcpp,pcpp rcpp,pcpp pcp,ncpp ncp,rcpp rcp,cpp cp,nlkp rlkp,nlkp ncpp,rmono rlkp,nmono rmono,rendo repi,pepi repi,pepi pcpp,pfib rfib,pfib pcpp,pendo rendo,pendo pepi,rlyp rmono,nlyp rlyp,nlyp nmono,rtp rlyp,ntp rtp,ntp nlyp,lya lka,rlya rlka,tca lya,rtca rlya,ntca rtca,ntca nlya,nlya rlya,nlya nlka,lka ca,lka imm,imm bp,cp bp,rimm rbp,nimm rimm,rlka rca,rlka rimm,nlka rlka,nlka nca,nlka nimm,nca rca,nca ncp,ca cp,cad cp,rca rcp,rcad rcp,ccad cad,lkcc ccad,lkcc lka,rccad rcad,rlkcc rccad,nccad rccad,nccad ncad,nlkcc rlkcc,nlkcc nccad,ncad rcad,ncad ncp,pcp rcp,ncp rcp,pcp pbp,ncp nbp,rcp rbp,vasc circ,bvdm vasc,bcirc circ,vaso bvdm,circ sys,sys multi,multi bp,rmulti rbp,nmulti rmulti,nmulti nbp,rtube ranat,rtd rtube,bvdm rtd,ranat rbq,cc cp,crs rs,crs cp,rcc rbp,pcc rcc,pcc pbp,psig rsig,psig pcc,ist st,ncc rcc,rst rsig,pst rst,pst psig,rist rst,nst rst,nst nsig,pist rist,pist pst,rmapk rist,nist rist,nist nst,pmapk rmapk,pmapk pist,nmapk rmapk,nmapk nist,nmapka nmapk,sig bp,rsig rcc,nsig rsig,nsig ncc,pbp rbp,nbp rbp,rbp breg,breg bp,rbq breg,rbfl rbq,rs bp,rrs rbp,prs rrs,prs pbp,nrs rrs,nrs nbp,res rs,rstr rs,rres rrs,nres rres,nres nrs,rw rstr,rrw rres,rrstr rrs,nrw rrw,nrw nrs,bc coag,bc hemo,hemo rbfl,wh rw,ncoag rcoag,nhemo rhemo,rhemo rbfl,rbc rcoag,rbc rhemo,rbc rwh,rwh rrw,nwh rwh,nwh nrw,nbc rbc,nbc ncoag,nbc nhemo,nbc nwh,nmf rmf,ncat rcat,ncat nmf,rcat rmf,rmf rbp,ntr rtr,ntr ncat,rtr rcat,rka rtr,nka rka,nka ntr,rpka rka,npka rpka,npka nka,rpst rpka,npst rpst,npst npka,rmapka rpst,nmapka rmapka,nmapka npst,rhyd rcat,rpep rhyd,rendp rpep,phm cmp,pcc2 phm,phos pcc2,pphos phos,pphos pmod,pmod mmod,mmod mmp,rphm rcmp,rpm rphm,rphos rpm,nphm rphm,nphm ncmp,npm rpm,npm nphm,nphos rphos,nphos npm,rpp rphos,rpp rpmod,npp rpp,npp nphos,npp npmod,rka rphos,rpka rpp,rcmp rmet,ncmp rcmp,ncmp nmp,nmp rmet,cmp met,def rstr,infl def,rdef rrstr,rinf rdef,ainf infl,rainf rinf,rpmod rprmp,npmod rpmod,npmod nprmp,met bp,dev bp,anat dev,cran anat,osm met,ncm met,pmp met,mmp pmp,mmp osm,oncm ncm,oncm osm,rncm rmet,rpmp rmet,pmet rmet,nncm rncm,nncm nmp,ge mmp,rmmp rmet,prmp mmp,prmp oncm,pncm rncm,pncm pmet,nmmp rmmp,nmmp nmp,rge rmmp,pmat prmp,rprmp rmmp,pmmp rmmp,pmmp pmet,prot prmp,nprmp rprmp,nprmp nmmp,pac prmp,pge rge,pge pmmp,rpmat rprmp,pproc pmat,pproc prot,rprot rprmp,pprmp rprmp,pprmp pmmp,rpep rcat,kin pac,actp pac,ppmat rpmat,ppmat pprmp,rpproc rpmat,rpproc rprot,nprot rprot,nprot nprmp,pprot rprot,pprot pprmp,pkk kin,ppproc rpproc,ppproc pprot,fxii pac,rendp rprot,ntp ntca,nlyp nlka,ntca nlkcc,rcpp rbp,ncpp nbp,pcpp pbp,rmet rbp,rbq bp,rcmp rcp,cmp cp,rmf breg,rcat rbp,rphm rmet,nmp nbp,pmet pbp",
black:"rcpp cpp,repi epi,rfib fib,rlkp lkp,rmono mono,rendo endo,rlyp lyp,rtp tp,rlya lya,rtca tca,rlka lka,rimm imm,rca ca,rcad cad,rccad ccad,rlkcc lkcc,rcp cp,rmulti multi,rcc cc,rsig sig,rst st,rist ist,rmapk mapk,rbp bp,rcoag coag,rhemo hemo,rbc bc,rrs rs,rres res,rrstr rstr,rrw rw,rwh wh,rcmp cmp,rphm phm,rpm pcc2,rphos phos,rpp pphos,rdef def,rinf infl,rpmod pmod,rainf ainf,rmet met,rncm ncm,rpmp pmp,rmmp mmp,rge ge,rprmp prmp,rpmat pmat,rpproc pproc,rprot prot",
red:"ncpp cpp,nlkp lkp,nmono mono,nlyp lyp,ntp tp,nlya lya,ntca tca,nlka lka,nimm imm,nca ca,ncad cad,nccad ccad,nlkcc lkcc,ncp cp,nmulti multi,ncc cc,nsig sig,nst st,nist ist,nmapk mapk,nbp bp,ncoag coag,nhemo hemo,nbc bc,nrs rs,nres res,nrw rw,nwh wh,ncmp cmp,nphm phm,npm pcc2,nphos phos,npp pphos,nmp met,nncm ncm,nmmp mmp,nprmp prmp,npmod pmod,nprot prot",
green:"pcpp cpp,pepi epi,pfib fib,pendo endo,pcp cp,pbp bp,prs rs,pcc cc,psig sig,pst st,pist ist,pmapk mapk,pmet met,pncm ncm,pmmp mmp,pprmp prmp,pge ge,ppmat pmat,ppproc pproc,pprot prot,fxii actp",
blue:"bvdm bcirc,st cc,st sig,st crs,bc wh,pmat ge,actp ainf,fxii pkk"
};
var col={gray:"#c0c0c0",black:"#000",red:"#b22222",green:"#228b22",blue:"#0000ff"};
var eg=document.getElementById("edges");
var NS="http://www.w3.org/2000/svg";
function bb(id){var g=document.getElementById(id);if(!g)return null;var r=g.querySelectorAll("rect");var x1=1e9,y1=1e9,x2=-1e9,y2=-1e9;for(var i=0;i<r.length;i++){var x=+r[i].getAttribute("x"),y=+r[i].getAttribute("y"),w=+r[i].getAttribute("width"),h=+r[i].getAttribute("height");x1=Math.min(x1,x);y1=Math.min(y1,y);x2=Math.max(x2,x+w);y2=Math.max(y2,y+h);}return {x1:x1,y1:y1,x2:x2,y2:y2,cx:(x1+x2)/2,cy:(y1+y2)/2};}
["gray","black","red","green","blue"].forEach(function(k){
E[k].split(",").forEach(function(p){
var a=p.split(" "),c=bb(a[0]),t=bb(a[1]);if(!c||!t)return;
var sx=c.cx,sy=c.y1,ex,ey,d;
if(t.y2<c.y1-4){ex=t.cx+Math.max(-t.x2+t.cx+6,Math.min(t.x2-t.cx-6,(sx-t.cx)*0.3));ey=t.y2;var my=(sy+ey)/2;d="M"+sx+","+sy+" C"+sx+","+my+" "+ex+","+my+" "+ex+","+ey;}
else{ if(sx<t.cx){ex=t.x1;}else{ex=t.x2;} ey=t.cy; sy=c.y1; d="M"+sx+","+sy+" C"+sx+","+(sy-40)+" "+(ex+(sx<t.cx?-40:40))+","+ey+" "+ex+","+ey;}
var pa=document.createElementNS(NS,"path");pa.setAttribute("d",d);pa.setAttribute("class","e");pa.setAttribute("stroke",col[k]);pa.setAttribute("marker-end","url(#m"+k+")");eg.appendChild(pa);
});});
})();
</script>
</body></html>
